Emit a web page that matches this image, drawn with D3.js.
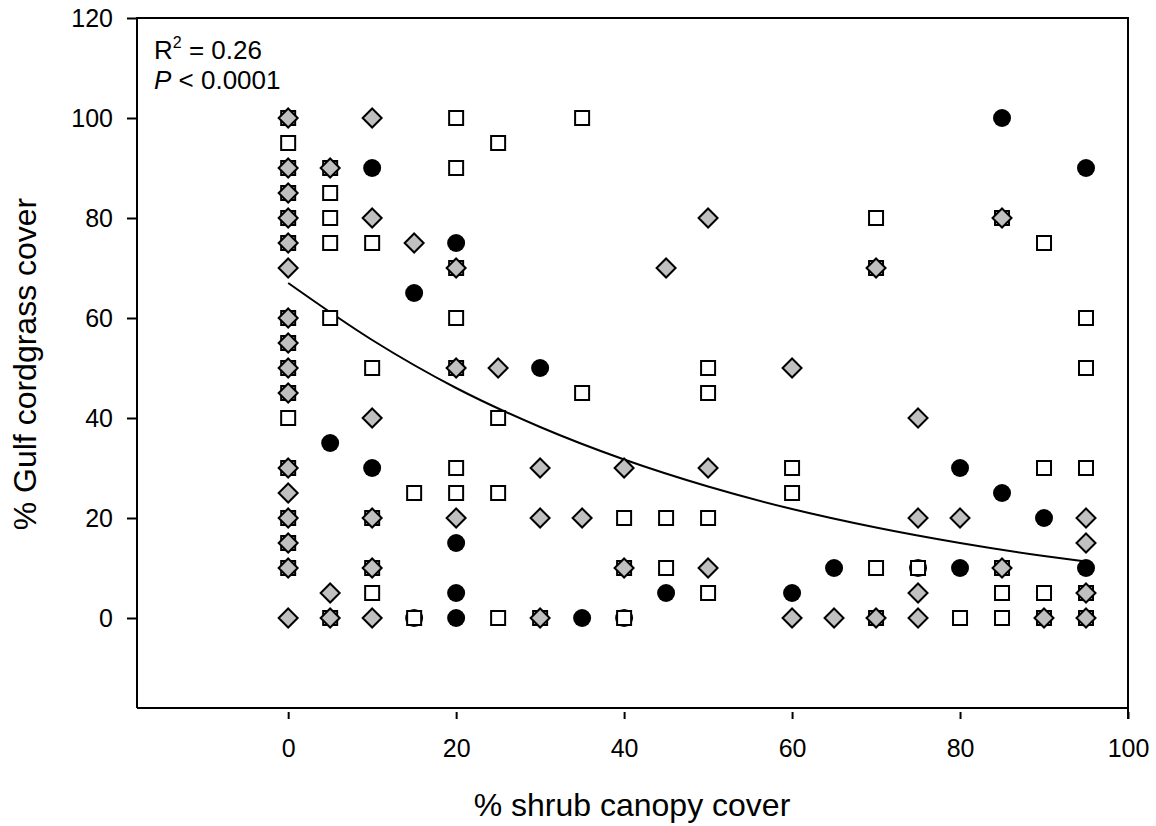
<!DOCTYPE html>
<html>
<head>
<meta charset="utf-8">
<script src="https://cdn.jsdelivr.net/npm/d3@7"></script>
<style>
  html, body { margin: 0; padding: 0; background: #fff; }
  svg text { font-family: Arial, "Liberation Sans", sans-serif; fill: #000; }
</style>
</head>
<body>
<svg id="chart" width="1156" height="826"></svg>
<script>
// ---- data ----
const xTicks = [0, 20, 40, 60, 80, 100];
const yTicks = [0, 20, 40, 60, 80, 100, 120];

// black filled circles [shrub %, cordgrass %]
const circlePts = [
  [5,35],[10,90],[10,30],[15,65],[15,0],[20,75],[20,15],[20,5],[20,0],[30,50],
  [35,0],[40,0],[45,5],[60,5],[65,10],[75,10],[80,30],[80,10],[85,100],[85,25],
  [90,20],[95,90],[95,10]
];
// open squares
const squarePts = [
  [0,100],[0,95],[0,90],[0,85],[0,80],[0,75],[0,60],[0,55],[0,50],[0,45],[0,40],[0,30],[0,20],[0,15],[0,10],
  [5,90],[5,85],[5,80],[5,75],[5,60],[5,0],
  [10,75],[10,50],[10,20],[10,10],[10,5],
  [15,25],[15,0],
  [20,100],[20,90],[20,70],[20,60],[20,50],[20,30],[20,25],
  [25,95],[25,40],[25,25],[25,0],
  [30,0],
  [35,100],[35,45],
  [40,20],[40,10],[40,0],
  [45,20],[45,10],
  [50,50],[50,45],[50,20],[50,5],
  [60,30],[60,25],
  [70,80],[70,70],[70,10],[70,0],
  [75,10],
  [80,0],
  [85,80],[85,10],[85,5],[85,0],
  [90,75],[90,30],[90,5],[90,0],
  [95,60],[95,50],[95,30],[95,5],[95,0]
];
// grey diamonds
const diamondPts = [
  [0,100],[0,90],[0,85],[0,80],[0,75],[0,70],[0,60],[0,55],[0,50],[0,45],[0,30],[0,25],[0,20],[0,15],[0,10],[0,0],
  [5,90],[5,5],[5,0],
  [10,100],[10,80],[10,40],[10,20],[10,10],[10,0],
  [15,75],
  [20,70],[20,50],[20,20],
  [25,50],
  [30,30],[30,20],[30,0],
  [35,20],
  [40,30],[40,10],
  [45,70],
  [50,80],[50,30],[50,10],
  [60,50],[60,0],
  [65,0],
  [70,70],[70,0],
  [75,40],[75,20],[75,5],[75,0],
  [80,20],
  [85,80],[85,10],
  [90,0],
  [95,20],[95,15],[95,5],[95,0]
];
// fitted curve, points
const fitPts = [
  [0,67],[10,55.6],[20,46],[30,38.2],[40,31.7],[50,26.3],[60,21.8],[70,18.1],[80,15],[90,12.4],[95,11.3]
];

// ---- layout ----
const svg = d3.select("#chart");
const x = d3.scaleLinear().domain([-18, 100]).range([137, 1128]);
const y = d3.scaleLinear().domain([-18, 120]).range([708, 18]);
const FONT = "Arial, 'Liberation Sans', sans-serif";

// frame
svg.append("path")
  .attr("d", `M${x(-18)},${y(-18)} V${y(120)} H${x(100)} V${y(-18) + 11}`)
  .attr("fill", "none").attr("stroke", "#000").attr("stroke-width", 2);
svg.append("line")
  .attr("x1", x(-18)).attr("x2", x(100)).attr("y1", y(-18)).attr("y2", y(-18))
  .attr("stroke", "#000").attr("stroke-width", 2);

// y axis
const yAxis = svg.append("g").attr("transform", `translate(${x(-18)},0)`)
  .call(d3.axisLeft(y).tickValues(yTicks).tickSize(10).tickPadding(14).tickFormat(d3.format("d")));
yAxis.select(".domain").remove();
yAxis.selectAll(".tick line").attr("stroke", "#000").attr("stroke-width", 2);
yAxis.selectAll("text").attr("font-size", 25).attr("font-family", FONT);

// x axis (offset below frame)
const xAxis = svg.append("g").attr("transform", `translate(0,${y(-18) + 4})`)
  .call(d3.axisBottom(x).tickValues(xTicks).tickSize(7).tickPadding(20).tickFormat(d3.format("d")));
xAxis.select(".domain").remove();
xAxis.selectAll(".tick line").attr("stroke", "#000").attr("stroke-width", 2);
xAxis.selectAll("text").attr("font-size", 25).attr("font-family", FONT);

// axis titles
svg.append("text").attr("x", 632).attr("y", 816)
  .attr("text-anchor", "middle").attr("font-size", 32).text("% shrub canopy cover");
svg.append("text").attr("transform", `translate(36,${y(50.8)}) rotate(-90)`)
  .attr("text-anchor", "middle").attr("font-size", 32).text("% Gulf cordgrass cover");

// annotation
const ann = svg.append("text").attr("x", 154).attr("y", 59).attr("font-size", 26);
ann.append("tspan").text("R");
ann.append("tspan").attr("font-size", 16).attr("dy", -11).text("2");
ann.append("tspan").attr("dy", 11).text(" = 0.26");
const ann2 = svg.append("text").attr("x", 154).attr("y", 89).attr("font-size", 26);
ann2.append("tspan").attr("font-style", "italic").text("P");
ann2.append("tspan").text(" < 0.0001");

// fitted curve
svg.append("path").datum(fitPts)
  .attr("d", d3.line().x(d => x(d[0])).y(d => y(d[1])).curve(d3.curveMonotoneX))
  .attr("fill", "none").attr("stroke", "#000").attr("stroke-width", 2);

// markers: circles, then squares, then diamonds on top
svg.append("g").selectAll("circle").data(circlePts).join("circle")
  .attr("cx", d => x(d[0])).attr("cy", d => y(d[1])).attr("r", 9)
  .attr("fill", "#000");

svg.append("g").selectAll("rect").data(squarePts).join("rect")
  .attr("x", d => x(d[0]) - 7).attr("y", d => y(d[1]) - 7)
  .attr("width", 14).attr("height", 14)
  .attr("fill", "#fff").attr("stroke", "#000").attr("stroke-width", 2);

const dh = 9.5;
svg.append("g").selectAll("path").data(diamondPts).join("path")
  .attr("d", d => {
    const cx = x(d[0]), cy = y(d[1]);
    return `M${cx},${cy - dh} L${cx + dh},${cy} L${cx},${cy + dh} L${cx - dh},${cy} Z`;
  })
  .attr("fill", "#c0c0c0").attr("stroke", "#000").attr("stroke-width", 2).attr("stroke-linejoin", "miter");
</script>
</body>
</html>
